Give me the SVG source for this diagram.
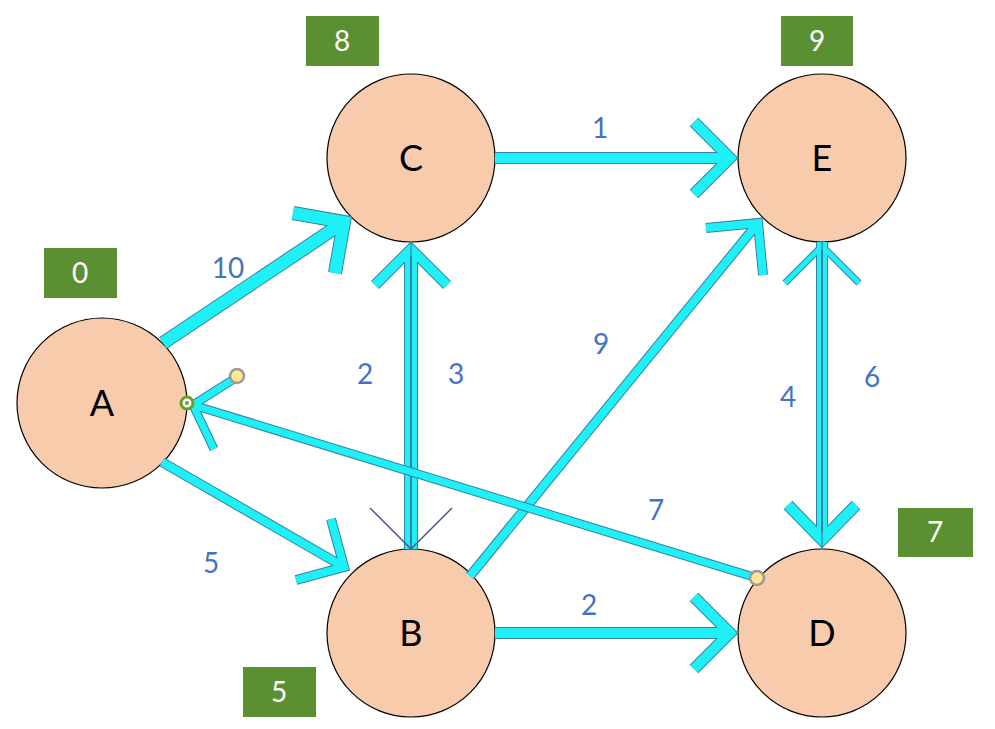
<svg xmlns="http://www.w3.org/2000/svg" xmlns:xlink="http://www.w3.org/1999/xlink" width="995" height="729" viewBox="0 0 995 729">
<style>
.node circle{fill:#F8CBAD;stroke:#000;stroke-width:1.2}
.node text{font-family:Lato,"Liberation Sans",sans-serif;font-size:36px;fill:#000;text-anchor:middle}
.box rect{fill:#5B9032}
.box text{font-family:Lato,"Liberation Sans",sans-serif;font-size:28px;fill:#fff;text-anchor:middle}
.w{font-family:Lato,"Liberation Sans",sans-serif;font-size:28px;fill:#4472C4;text-anchor:middle}
.o{fill:none;stroke:#3A7FA6;stroke-linejoin:miter;stroke-linecap:butt}
.f{fill:none;stroke:#1EF0F5;stroke-linejoin:miter;stroke-linecap:butt}
.thin{fill:none;stroke:#4A5590;stroke-width:1.5}
.hy{fill:#FFE68F;stroke:#9A9A9A;stroke-width:2.5}
</style>
<defs>
<path id="pAC" d="M163,343 L344,222 M293,213 L344,222 L335,273"/>
<path id="pCE" d="M495,158 L730,158 M694,122 L730,158 L694,194"/>
<path id="pBD" d="M495,633 L730,633 M694,597 L730,633 L694,669"/>
<path id="pAB" d="M162,462 L344,567 M296,580 L344,567 L331,519"/>
<path id="pBE" d="M470,576 L758,223 M706,228 L758,223 L763,275"/>
<path id="pCh" d="M375,285 L411,249 L447,285"/>
<path id="pBCl" d="M407.5,549 L407.5,250"/>
<path id="pBCr" d="M414.5,549 L414.5,250"/>
<path id="pDh" d="M788,505 L822,540 L856,505"/>
<path id="pEh" d="M785,283 L822,246 L859,283"/>
<path id="pEDl" d="M819,242 L819,541"/>
<path id="pEDr" d="M825,242 L825,541"/>
<path id="pDA" d="M757,578 L193,405 M237,377 L193,405 L214,449"/>
</defs>
<g id="nodes">
<g id="A" class="node"><circle cx="102" cy="403" r="85"/><text x="102" y="416">A</text></g>
<g id="C" class="node"><circle cx="411" cy="158" r="84"/><text x="411" y="171">C</text></g>
<g id="E" class="node"><circle cx="822" cy="158" r="84"/><text x="822" y="171">E</text></g>
<g id="B" class="node"><circle cx="411" cy="633" r="84"/><text x="411" y="646">B</text></g>
<g id="D" class="node"><circle cx="822" cy="633" r="84"/><text x="822" y="646">D</text></g>
</g>
<g id="connectors">
<use xlink:href="#pAC" class="o" stroke-width="14"/><use xlink:href="#pAC" class="f" stroke-width="12"/>
<use xlink:href="#pCE" class="o" stroke-width="12"/><use xlink:href="#pCE" class="f" stroke-width="10"/>
<use xlink:href="#pBD" class="o" stroke-width="12"/><use xlink:href="#pBD" class="f" stroke-width="10"/>
<use xlink:href="#pAB" class="o" stroke-width="10"/><use xlink:href="#pAB" class="f" stroke-width="8"/>
<use xlink:href="#pBE" class="o" stroke-width="10"/><use xlink:href="#pBE" class="f" stroke-width="8"/>
<use xlink:href="#pCh" class="o" stroke-width="11"/><use xlink:href="#pBCl" class="o" stroke-width="7"/><use xlink:href="#pBCr" class="o" stroke-width="7"/>
<use xlink:href="#pCh" class="f" stroke-width="9"/><use xlink:href="#pBCl" class="f" stroke-width="5"/><use xlink:href="#pBCr" class="f" stroke-width="5"/>
<path d="M411,243 L411,549" fill="none" stroke="#3A7FA6" stroke-width="1.2"/>
<path class="thin" d="M370,508 L411,549 L452,508"/>
<use xlink:href="#pDh" class="o" stroke-width="12"/><use xlink:href="#pEh" class="o" stroke-width="7"/><use xlink:href="#pEDl" class="o" stroke-width="6"/><use xlink:href="#pEDr" class="o" stroke-width="6"/>
<use xlink:href="#pDh" class="f" stroke-width="10"/><use xlink:href="#pEh" class="f" stroke-width="5"/><use xlink:href="#pEDl" class="f" stroke-width="4"/><use xlink:href="#pEDr" class="f" stroke-width="4"/>
<path d="M822,243 L822,548" fill="none" stroke="#3A7FA6" stroke-width="1.2"/>
<use xlink:href="#pDA" class="o" stroke-width="9"/><use xlink:href="#pDA" class="f" stroke-width="7"/>
<circle class="hy" cx="237" cy="376" r="7"/>
<circle class="hy" cx="757" cy="578" r="7"/>
<circle cx="187" cy="403" r="6" fill="#fff" stroke="#6AA121" stroke-width="3"/>
<circle cx="187" cy="403" r="2" fill="#6AA121"/>
</g>
<g id="weights">
<text class="w" x="228" y="278">10</text>
<text class="w" x="600" y="138">1</text>
<text class="w" x="211" y="573">5</text>
<text class="w" x="365" y="384">2</text>
<text class="w" x="456" y="384">3</text>
<text class="w" x="601" y="354">9</text>
<text class="w" x="656" y="520">7</text>
<text class="w" x="589" y="615">2</text>
<text class="w" x="788" y="407">4</text>
<text class="w" x="872" y="387">6</text>
</g>
<g id="distances">
<g id="d8" class="box"><rect x="306" y="16" width="73" height="50"/><text x="342" y="51">8</text></g>
<g id="d9" class="box"><rect x="781" y="16" width="72" height="50"/><text x="817" y="51">9</text></g>
<g id="d0" class="box"><rect x="44" y="248" width="73" height="50"/><text x="80" y="283">0</text></g>
<g id="d7" class="box"><rect x="898" y="508" width="75" height="49"/><text x="935" y="542">7</text></g>
<g id="d5" class="box"><rect x="243" y="667" width="73" height="50"/><text x="279" y="702">5</text></g>
</g>
</svg>
